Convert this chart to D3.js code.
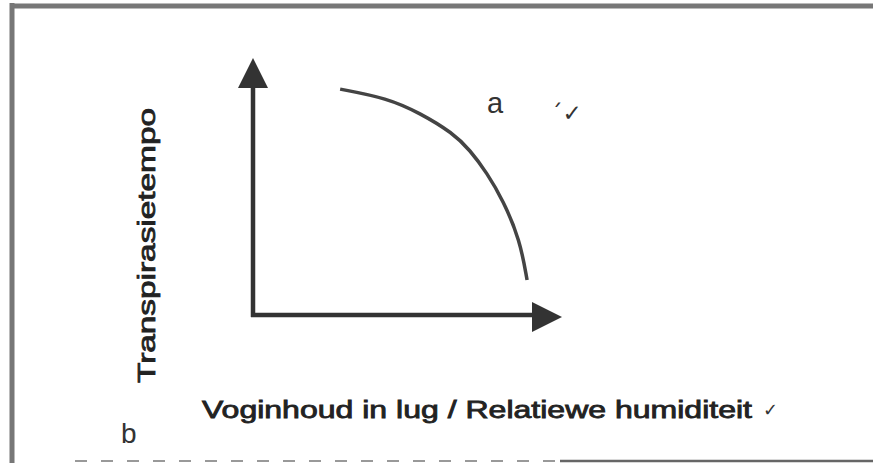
<!DOCTYPE html>
<html>
<head>
<meta charset="utf-8">
<script src="https://cdn.jsdelivr.net/npm/d3@7"></script>
<style>
  body { margin: 0; background: #fff; }
  svg { display: block; }
</style>
</head>
<body>
<svg class="chart"></svg>
<script>
// curve, in axis units (0..100 on both axes)
let curveX = [28.2, 43.4, 54.0, 64.7, 70.2, 75.7, 80.9, 86.4, 88.7]
let curveY = [87.9, 84.4, 78.6, 70.8, 64.2, 55.3, 44.7, 29.2, 13.6]

let xLabel = 'Voginhoud in lug / Relatiewe humiditeit'
let yLabel = 'Transpirasietempo'
let curveLabel = 'a'
let panelLabel = 'b'

let width = 873, height = 463

let x = d3.scaleLinear().domain([0, 100]).range([253, 562])
let y = d3.scaleLinear().domain([0, 100]).range([315, 58])

let svg = d3.select('.chart')
    .attr('width', width)
    .attr('height', height)

// scanned frame: left edge, top edge and a broken bottom edge
svg.append('line')
    .attr('x1', 12).attr('x2', 12).attr('y1', 3).attr('y2', 463)
    .attr('stroke', '#777').attr('stroke-width', 5)
svg.append('line')
    .attr('x1', 10).attr('x2', 873).attr('y1', 6).attr('y2', 6)
    .attr('stroke', '#777').attr('stroke-width', 5)
svg.append('line')
    .attr('x1', 75).attr('x2', 560).attr('y1', 461).attr('y2', 461)
    .attr('stroke', '#999').attr('stroke-width', 2)
    .attr('stroke-dasharray', '12 14')
svg.append('line')
    .attr('x1', 560).attr('x2', 873).attr('y1', 461).attr('y2', 461)
    .attr('stroke', '#666').attr('stroke-width', 2.5)

let axisColor = '#333'
let head = 30

// y axis with arrowhead
svg.append('line')
    .attr('x1', x(0)).attr('x2', x(0))
    .attr('y1', y(0) + 2).attr('y2', y(100) + head - 1)
    .attr('stroke', axisColor).attr('stroke-width', 4.5)
svg.append('path')
    .attr('d', d3.line()([[x(0), y(100)], [x(0) - 15, y(100) + head], [x(0) + 15, y(100) + head]]) + 'Z')
    .attr('fill', axisColor)

// x axis with arrowhead
svg.append('line')
    .attr('x1', x(0) - 2).attr('x2', x(100) - head + 1)
    .attr('y1', y(0)).attr('y2', y(0))
    .attr('stroke', axisColor).attr('stroke-width', 4.5)
svg.append('path')
    .attr('d', d3.line()([[x(100), y(0) + 2], [x(100) - head, y(0) - 13], [x(100) - head, y(0) + 17]]) + 'Z')
    .attr('fill', axisColor)

// the curve
let points = curveX.map((d, i) => [d, curveY[i]])
svg.append('path')
    .datum(points)
    .attr('d', d3.line()
        .x((d) => x(d[0]))
        .y((d) => y(d[1]))
        .curve(d3.curveBasis))
    .attr('fill', 'none')
    .attr('stroke', '#444')
    .attr('stroke-width', 3.5)

// labels
let font = 'Liberation Sans, Arial, sans-serif'

svg.append('text')
    .attr('x', 487).attr('y', 113)
    .attr('font-family', font)
    .attr('font-size', 29)
    .attr('fill', '#333')
    .text(curveLabel)
svg.append('text')
    .attr('x', 551).attr('y', 121)
    .attr('font-family', 'DejaVu Sans, sans-serif')
    .attr('font-size', 23)
    .attr('fill', '#333')
    .text('´✓')

svg.append('text')
    .attr('transform', 'translate(155,383) rotate(-90)')
    .attr('font-family', font)
    .attr('font-size', 23)
    .attr('fill', '#222')
    .attr('stroke', '#222')
    .attr('stroke-width', 0.8)
    .attr('textLength', 275)
    .attr('lengthAdjust', 'spacingAndGlyphs')
    .text(yLabel)

svg.append('text')
    .attr('x', 202).attr('y', 418)
    .attr('font-family', font)
    .attr('font-size', 23)
    .attr('fill', '#222')
    .attr('stroke', '#222')
    .attr('stroke-width', 0.8)
    .attr('textLength', 550)
    .attr('lengthAdjust', 'spacingAndGlyphs')
    .text(xLabel)
svg.append('text')
    .attr('x', 763).attr('y', 416)
    .attr('font-family', 'DejaVu Sans, sans-serif')
    .attr('font-size', 18)
    .attr('fill', '#333')
    .text('✓')

svg.append('text')
    .attr('x', 121).attr('y', 443)
    .attr('font-family', font)
    .attr('font-size', 28)
    .attr('fill', '#333')
    .text(panelLabel)
</script>
</body>
</html>
